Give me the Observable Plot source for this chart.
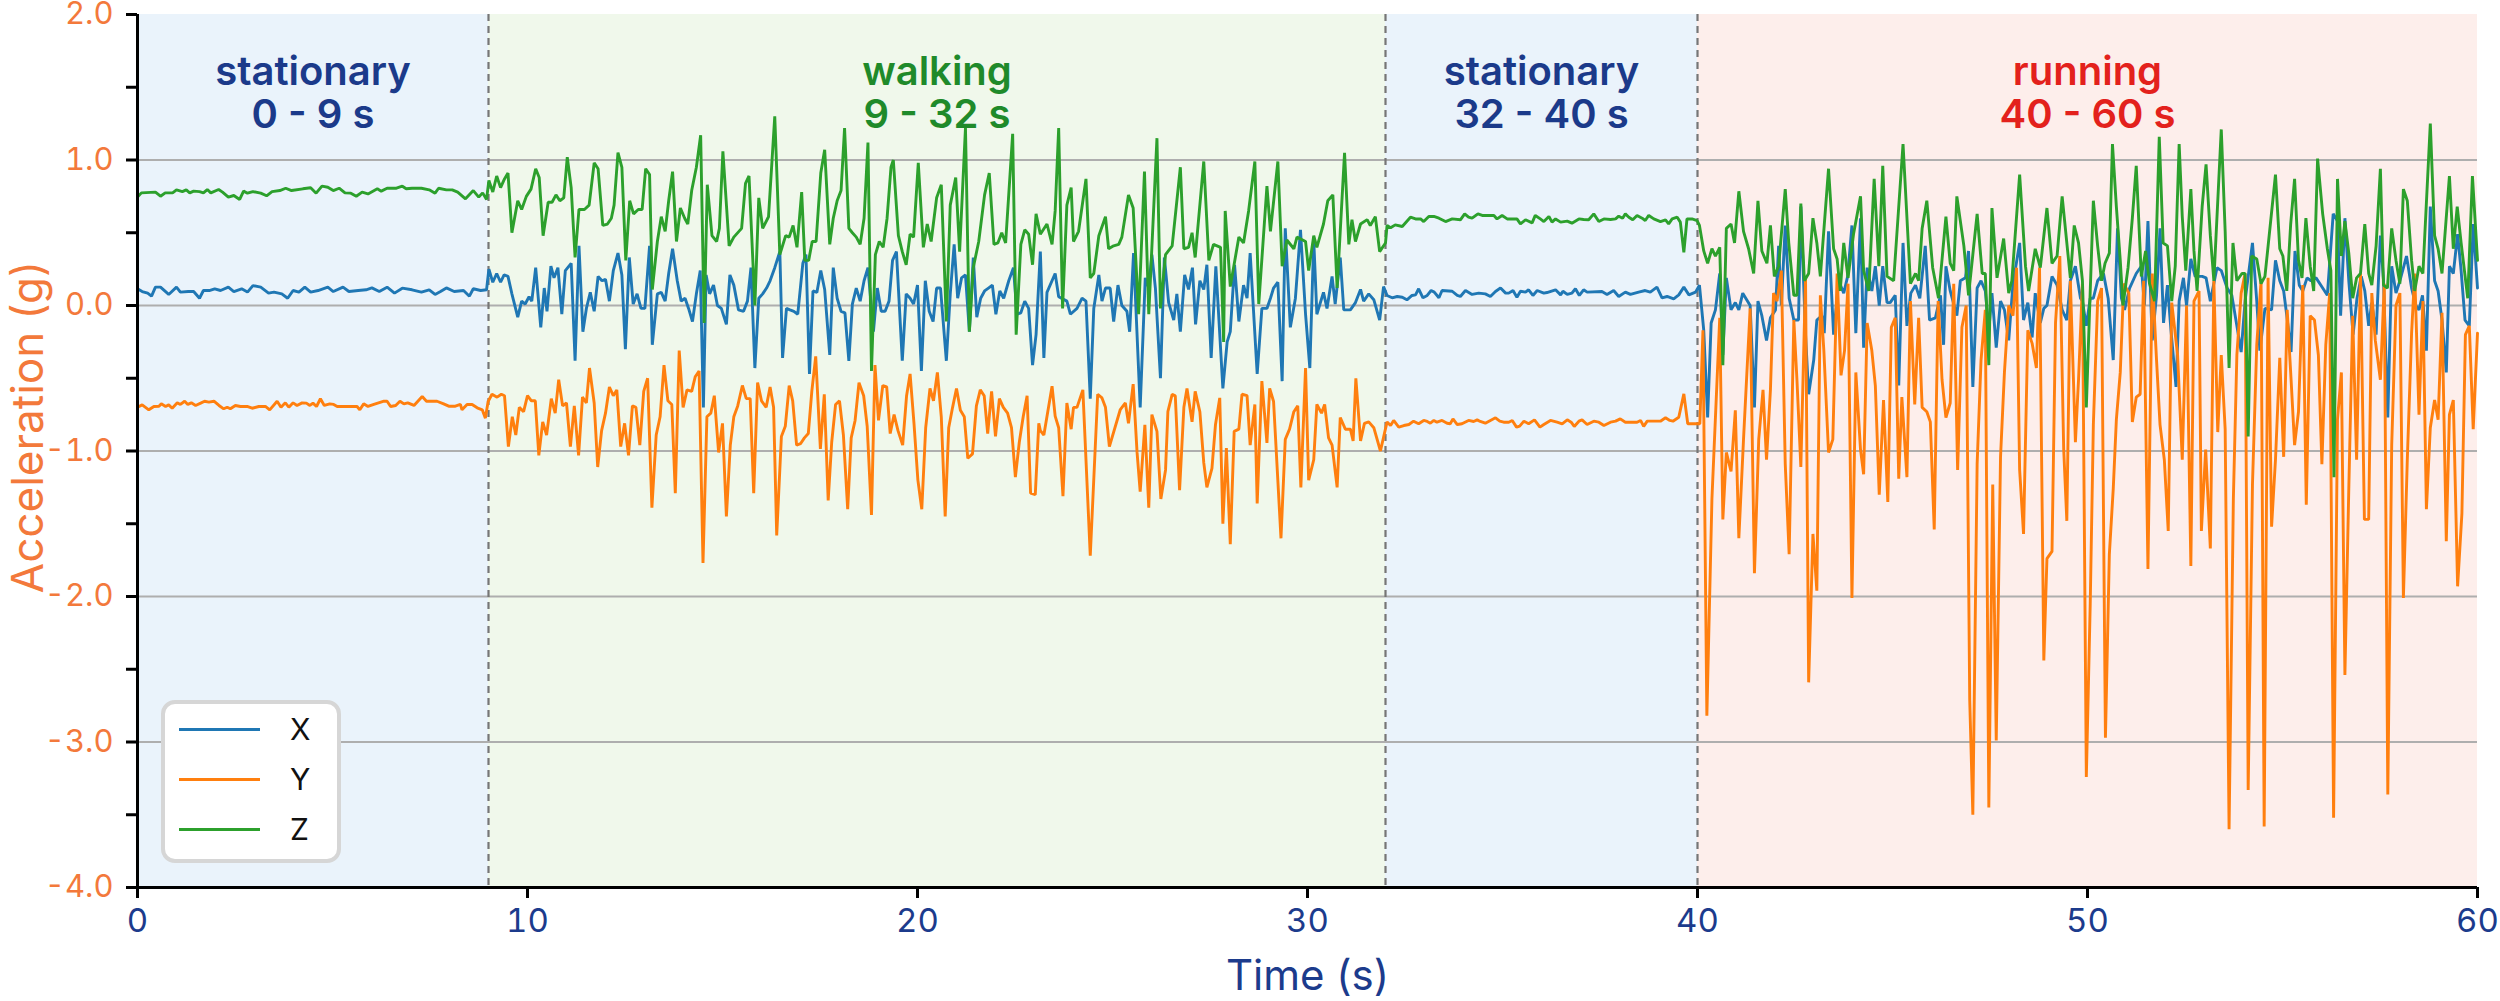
<!DOCTYPE html>
<html><head><meta charset="utf-8">
<script src="https://cdn.jsdelivr.net/npm/d3@7"></script>
<script src="https://cdn.jsdelivr.net/npm/@observablehq/plot@0.6"></script>
<style>
body{margin:0;background:#fff;}
#wrap{position:relative;width:2500px;height:1001px;overflow:hidden;}
#legend{position:absolute;left:161px;top:700px;width:172px;height:155px;border:4px solid #d6d6d6;border-radius:14px;background:#fff;font-family:Inter,'Noto Sans',sans-serif;}
.row{display:flex;align-items:center;height:50px;}
.sw{margin-left:14px;width:81px;height:3px;}
.lb{margin-left:30px;font-size:30px;color:#111;}
</style></head><body><div id="wrap"></div>
<script>
const seriesNames = ["X", "Y", "Z"];
const seriesColors = ["#1f77b4", "#ff7f0e", "#2ca02c"];
const phaseNames = ["stationary", "walking", "stationary", "running"];
const phaseStart = [0, 9, 32, 40];
const phaseEnd = [9, 32, 40, 60];
const phaseFill = ["#eaf3fb", "#f0f8eb", "#eaf3fb", "#fdeeeb"];
const phaseTextColor = ["#1b3a8a", "#1f8a2a", "#1b3a8a", "#e3211c"];
const xTicks = [0, 10, 20, 30, 40, 50, 60];
const yTicks = [-4, -3, -2, -1, 0, 1, 2];
const yMinorTicks = [-3.5, -2.5, -1.5, -0.5, 0.5, 1.5];
const gridValues = [-3, -2, -1, 0, 1];

// [time (s), acceleration (g)]
const seriesX = [
[0,0.115],[0.12,0.096],[0.26,0.085],[0.36,0.064],[0.46,0.126],[0.59,0.126],[0.80,0.076],[1.00,0.126],[1.10,0.092],[1.30,0.096],[1.44,0.096],[1.59,0.050],[1.69,0.103],[1.84,0.103],[1.98,0.115],[2.13,0.103],[2.33,0.126],[2.47,0.096],[2.67,0.115],[2.82,0.092],[2.96,0.137],[3.16,0.126],[3.36,0.085],[3.50,0.092],[3.70,0.080],[3.85,0.050],[3.99,0.103],[4.14,0.092],[4.29,0.126],[4.44,0.092],[4.63,0.103],[4.88,0.126],[5.02,0.096],[5.27,0.126],[5.42,0.096],[5.66,0.103],[5.86,0.108],[6.01,0.121],[6.20,0.096],[6.40,0.126],[6.59,0.085],[6.79,0.119],[7.04,0.108],[7.28,0.092],[7.48,0.108],[7.63,0.076],[7.77,0.096],[7.92,0.121],[8.12,0.096],[8.36,0.103],[8.51,0.064],[8.61,0.115],[8.80,0.103],[8.95,0.108],
[9.01,0.25],[9.11,0.16],[9.21,0.22],[9.31,0.16],[9.40,0.21],[9.50,0.20],[9.60,0.08],[9.75,-0.08],[9.85,0.03],[9.94,0.01],[10.04,0.06],[10.11,0.03],[10.21,0.26],[10.34,-0.15],[10.43,0.12],[10.50,-0.04],[10.60,0.27],[10.68,0.19],[10.78,0.26],[10.88,-0.06],[10.97,0.24],[11.12,0.29],[11.22,-0.38],[11.32,0.41],[11.42,-0.18],[11.51,-0.02],[11.61,0.09],[11.71,-0.04],[11.81,0.20],[11.91,0.17],[12.00,0.18],[12.10,0.03],[12.20,0.24],[12.32,0.36],[12.42,0.21],[12.51,-0.30],[12.61,0.33],[12.71,0.01],[12.81,0.08],[12.91,-0.02],[13.01,-0.02],[13.13,0.41],[13.20,-0.27],[13.33,0.08],[13.43,0.09],[13.53,0.03],[13.62,0.22],[13.72,0.39],[13.84,0.17],[13.94,0.03],[14.04,0.05],[14.13,-0.02],[14.23,-0.11],[14.33,0.08],[14.43,0.24],[14.51,-0.70],[14.58,0.21],[14.67,0.08],[14.77,0.14],[14.87,0.00],[14.97,-0.02],[15.10,-0.13],[15.19,0.21],[15.29,0.14],[15.41,-0.03],[15.54,-0.04],[15.64,0.03],[15.73,0.26],[15.83,-0.43],[15.93,0.05],[16.03,0.08],[16.13,0.12],[16.22,0.17],[16.34,0.26],[16.47,0.37],[16.54,-0.36],[16.64,-0.02],[16.73,-0.03],[16.83,-0.04],[16.93,-0.06],[17.06,0.29],[17.14,0.35],[17.23,-0.47],[17.32,0.10],[17.42,0.09],[17.52,0.24],[17.62,0.11],[17.75,-0.34],[17.84,0.26],[17.94,0.05],[18.04,-0.04],[18.14,-0.05],[18.24,-0.38],[18.33,0.01],[18.43,0.12],[18.53,0.03],[18.63,0.17],[18.73,0.26],[18.87,-0.18],[18.97,0.12],[19.07,-0.04],[19.17,-0.04],[19.27,0.03],[19.36,0.31],[19.46,0.37],[19.61,-0.38],[19.71,0.08],[19.81,0.05],[19.90,0.01],[20.00,0.14],[20.10,-0.45],[20.20,0.17],[20.30,-0.04],[20.40,-0.11],[20.49,0.12],[20.59,0.12],[20.74,-0.38],[20.84,0.08],[20.94,0.42],[21.03,0.05],[21.13,0.19],[21.23,0.21],[21.33,-0.18],[21.43,0.33],[21.52,-0.08],[21.62,0.05],[21.72,0.10],[21.82,0.12],[21.92,0.14],[22.01,-0.06],[22.11,0.10],[22.21,0.05],[22.34,0.17],[22.46,0.26],[22.55,-0.06],[22.65,-0.05],[22.75,0.03],[22.85,-0.02],[22.95,-0.41],[23.04,-0.20],
[23.15,0.37],[23.24,-0.36],[23.32,0.09],[23.53,0.22],[23.62,0.06],[23.83,0.03],[23.92,-0.06],[24.09,-0.02],[24.22,0.05],[24.32,0.03],[24.43,-0.64],[24.52,-0.02],[24.65,0.21],[24.73,0.03],[24.82,0.12],[24.94,0.12],[25.03,-0.11],[25.14,0.14],[25.24,0.00],[25.37,-0.04],[25.44,-0.18],[25.54,0.36],[25.71,-0.70],[25.84,0.19],[25.93,0.12],[26.01,0.35],[26.10,0.12],[26.23,-0.50],[26.33,0.33],[26.44,0.02],[26.57,-0.10],[26.65,0.08],[26.74,-0.18],[26.85,0.21],[26.95,0.11],[27.05,0.26],[27.13,-0.13],[27.24,0.17],[27.34,0.11],[27.42,0.28],[27.53,-0.36],[27.65,0.27],[27.83,-0.57],[27.94,-0.25],[28.02,-0.18],[28.13,0.28],[28.24,-0.11],[28.36,0.14],[28.45,0.05],[28.53,0.36],[28.71,-0.47],[28.83,-0.02],[28.96,-0.02],[29.05,0.05],[29.13,0.12],[29.24,0.16],[29.35,-0.52],[29.43,0.53],[29.56,-0.15],[29.69,0.05],[29.82,0.52],[29.95,-0.06],[30.06,-0.43],[30.16,0.45],[30.24,-0.06],[30.41,0.09],[30.50,-0.02],[30.63,0.20],[30.71,0.01],[30.84,0.33],[30.93,-0.03],[31.10,-0.03],[31.23,0.02],[31.36,0.11],[31.44,0.03],[31.57,0.08],[31.70,0.04],[31.85,-0.10],[31.95,0.13],
[32.04,0.069],[32.17,0.053],[32.30,0.062],[32.43,0.057],[32.55,0.039],[32.68,0.069],[32.77,0.073],[32.85,0.115],[32.96,0.053],[33.07,0.069],[33.17,0.103],[33.25,0.092],[33.37,0.053],[33.45,0.103],[33.71,0.098],[33.84,0.069],[33.92,0.062],[34.05,0.103],[34.22,0.076],[34.39,0.085],[34.56,0.080],[34.69,0.062],[34.82,0.096],[34.95,0.121],[35.08,0.085],[35.16,0.085],[35.27,0.103],[35.37,0.057],[35.46,0.098],[35.59,0.092],[35.67,0.108],[35.78,0.069],[35.89,0.103],[36.06,0.085],[36.14,0.089],[36.36,0.108],[36.49,0.073],[36.55,0.098],[36.66,0.076],[36.78,0.085],[36.87,0.115],[36.97,0.069],[37.08,0.108],[37.17,0.092],[37.55,0.096],[37.68,0.076],[37.85,0.103],[37.98,0.062],[38.15,0.092],[38.28,0.076],[38.49,0.092],[38.66,0.103],[38.79,0.092],[38.96,0.126],[39.09,0.053],[39.22,0.062],[39.39,0.046],[39.52,0.073],[39.65,0.126],[39.78,0.073],[39.95,0.092],
[40.05,0.14],[40.16,-0.17],[40.26,-0.77],[40.35,-0.12],[40.46,-0.03],[40.57,0.22],[40.65,-0.34],[40.74,0.19],[40.86,-0.03],[40.97,0.02],[41.06,-0.03],[41.16,0.085],[41.35,0.00],[41.46,-0.70],[41.55,0.03],[41.65,-0.07],[41.77,-0.24],[41.87,-0.085],[42.00,-0.03],[42.08,0.41],[42.15,0.00],[42.25,0.55],[42.35,0.05],[42.47,-0.10],[42.59,-0.10],[42.65,0.68],[42.77,-0.20],[42.85,-0.61],[42.98,-0.375],[43.06,-0.10],[43.19,-0.07],[43.25,-0.19],[43.36,0.51],[43.49,-0.20],[43.62,0.17],[43.75,0.085],[43.85,0.20],[43.96,0.55],[44.06,-0.19],[44.18,0.60],[44.26,-0.29],[44.35,0.26],[44.47,0.10],[44.56,0.27],[44.66,0.00],[44.75,0.27],[44.86,0.02],[44.94,0.02],[45.07,0.07],[45.16,-0.55],[45.27,0.43],[45.37,-0.14],[45.47,0.085],[45.59,0.14],[45.70,0.05],[45.84,0.41],[45.95,-0.10],[46.10,-0.085],[46.23,0.07],[46.31,-0.27],[46.37,0.27],[46.48,0.10],[46.65,-0.07],[46.74,0.17],[46.87,0.19],[46.95,0.375],[47.06,-0.56],[47.17,0.12],[47.27,0.17],[47.38,0.10],[47.47,-0.17],[47.55,0.085],[47.66,-0.29],[47.77,0.03],[47.87,-0.03],[47.98,-0.24],[48.09,0.15],[48.26,0.43],[48.36,-0.10],[48.47,0.02],[48.58,-0.22],[48.66,0.085],[48.79,-0.12],[48.88,-0.02],[48.96,0.00],[49.09,0.20],[49.22,0.14],[49.35,-0.03],[49.47,-0.10],[49.56,0.17],[49.69,0.27],[49.82,0.05],
[49.87,0.03],[49.97,-0.14],[50.07,0.05],[50.15,0.05],[50.26,0.17],[50.41,0.22],[50.53,0.05],[50.66,-0.375],[50.77,0.53],[50.87,0.05],[50.95,-0.03],[51.08,0.12],[51.25,0.22],[51.38,0.27],[51.46,0.00],[51.55,0.58],[51.66,-0.24],[51.77,0.07],[51.86,0.53],[51.95,-0.12],[52.05,0.14],[52.14,-0.17],[52.27,-0.56],[52.35,0.03],[52.46,0.19],[52.54,0.00],[52.65,0.32],[52.76,0.20],[52.94,0.20],[53.04,0.19],[53.15,0.03],[53.32,0.26],[53.43,0.24],[53.58,0.12],[53.70,0.07],[53.83,-0.14],[53.94,-0.32],[54.04,0.03],[54.23,0.43],[54.34,0.03],[54.42,-0.31],[54.55,-0.02],[54.72,-0.03],[54.82,0.31],[54.93,0.17],[55.03,0.10],[55.11,-0.07],[55.22,-0.32],[55.32,0.375],[55.43,0.14],[55.52,0.10],[55.63,0.19],[55.73,0.17],[55.86,0.19],[56.03,0.12],[56.15,0.07],[56.30,0.63],[56.41,0.58],[56.49,-0.07],[56.60,0.60],[56.70,0.17],[56.81,-0.20],[56.91,0.05],[57.02,0.20],[57.11,0.10],[57.21,-0.14],[57.29,0.02],[57.40,-0.20],[57.51,0.48],[57.59,0.17],[57.70,-0.77],[57.80,0.27],[57.91,0.085],[58.01,0.17],[58.18,0.34],[58.31,0.12],[58.42,0.00],[58.50,-0.03],[58.59,0.07],[58.69,-0.31],[58.79,0.68],[58.90,0.17],[58.99,0.10],[59.09,-0.10],[59.20,-0.46],[59.28,0.27],[59.38,0.22],[59.49,0.49],[59.58,0.24],[59.68,-0.10],[59.79,-0.14],[59.89,0.56],[60.00,0.12]
];

const seriesY = [
[0,-0.699],[0.12,-0.683],[0.29,-0.717],[0.42,-0.694],[0.55,-0.692],[0.61,-0.676],[0.72,-0.694],[0.80,-0.683],[0.89,-0.706],[1.02,-0.669],[1.10,-0.680],[1.21,-0.658],[1.29,-0.680],[1.38,-0.669],[1.49,-0.687],[1.62,-0.671],[1.72,-0.658],[1.83,-0.664],[1.96,-0.658],[2.09,-0.687],[2.21,-0.710],[2.30,-0.699],[2.38,-0.710],[2.51,-0.687],[2.64,-0.694],[2.81,-0.694],[2.94,-0.706],[3.11,-0.694],[3.28,-0.694],[3.39,-0.717],[3.58,-0.658],[3.68,-0.699],[3.79,-0.669],[3.88,-0.699],[3.99,-0.669],[4.09,-0.687],[4.22,-0.669],[4.33,-0.671],[4.42,-0.687],[4.50,-0.671],[4.59,-0.694],[4.69,-0.641],[4.79,-0.687],[4.93,-0.676],[5.03,-0.680],[5.12,-0.694],[5.38,-0.694],[5.63,-0.694],[5.70,-0.717],[5.80,-0.676],[5.91,-0.694],[6.06,-0.680],[6.32,-0.658],[6.40,-0.658],[6.49,-0.694],[6.62,-0.687],[6.73,-0.658],[6.83,-0.676],[6.93,-0.669],[7.09,-0.687],[7.30,-0.625],[7.41,-0.658],[7.68,-0.658],[7.85,-0.676],[7.98,-0.692],[8.15,-0.692],[8.28,-0.680],[8.32,-0.717],[8.45,-0.680],[8.58,-0.680],[8.71,-0.703],[8.84,-0.717],[8.92,-0.774],[8.99,-0.66],
[9.09,-0.61],[9.22,-0.63],[9.33,-0.61],[9.41,-0.62],[9.51,-0.97],[9.61,-0.765],[9.70,-0.89],[9.79,-0.70],[9.90,-0.73],[10.0,-0.62],[10.10,-0.655],[10.20,-0.655],[10.29,-1.03],[10.39,-0.80],[10.49,-0.89],[10.61,-0.64],[10.71,-0.74],[10.80,-0.51],[10.90,-0.69],[11.0,-0.67],[11.10,-0.97],[11.20,-0.69],[11.31,-1.03],[11.41,-0.63],[11.51,-0.67],[11.59,-0.43],[11.71,-0.67],[11.80,-1.11],[11.90,-0.86],[12.0,-0.74],[12.10,-0.56],[12.20,-0.62],[12.29,-0.58],[12.39,-0.97],[12.49,-0.81],[12.59,-1.03],[12.69,-0.69],[12.78,-0.70],[12.88,-0.96],[12.98,-0.59],[13.08,-0.50],[13.19,-1.39],[13.30,-0.89],[13.40,-0.765],[13.50,-0.41],[13.60,-0.655],[13.70,-0.68],[13.79,-1.29],[13.89,-0.31],[13.99,-0.70],[14.09,-0.58],[14.21,-0.59],[14.30,-0.49],[14.40,-0.45],[14.5,-1.77],[14.60,-0.765],[14.70,-0.74],[14.79,-0.62],[14.90,-1.01],[15.0,-0.81],[15.10,-1.45],[15.20,-0.96],[15.29,-0.765],[15.39,-0.69],[15.51,-0.55],[15.61,-0.64],[15.71,-0.64],[15.80,-1.29],[15.90,-0.53],[16.0,-0.655],[16.12,-0.70],[16.22,-0.56],[16.31,-0.70],[16.39,-1.58],[16.51,-0.90],[16.61,-0.83],[16.71,-0.55],[16.80,-0.655],[16.90,-0.96],[17.0,-0.95],[17.10,-0.91],[17.20,-0.88],[17.29,-0.59],[17.39,-0.35],[17.51,-0.985],[17.61,-0.61],[17.71,-1.34],[17.80,-0.94],[17.90,-0.68],[18.0,-0.655],[18.10,-0.89],[18.21,-1.40],[18.30,-0.91],[18.40,-0.79],[18.50,-0.53],[18.62,-0.62],[18.71,-0.83],[18.82,-1.44],[18.91,-0.41],[19.0,-0.79],[19.11,-0.55],[19.21,-0.56],[19.30,-0.88],[19.40,-0.75],[19.50,-0.86],[19.62,-0.96],[19.72,-0.62],[19.81,-0.47],[19.91,-0.81],[20.01,-1.20],[20.11,-1.40],[20.21,-0.84],[20.32,-0.57],[20.41,-0.655],[20.51,-0.46],[20.61,-0.765],[20.71,-1.45],[20.80,-0.84],[20.90,-0.70],[21.0,-0.57],[21.10,-0.72],[21.20,-0.765],[21.29,-1.05],[21.41,-1.02],[21.51,-0.69],[21.61,-0.58],[21.71,-0.62],[21.80,-0.88],[21.90,-0.59],[22.0,-0.90],[22.10,-0.64],[22.20,-0.70],[22.31,-0.74],[22.41,-0.84],[22.51,-1.18],[22.61,-0.94],[22.71,-0.765],[22.81,-0.62],[22.90,-1.29],[23.02,-1.30],[23.11,-0.81],
[23.15,-0.86],[23.24,-0.89],[23.45,-0.555],[23.53,-0.76],[23.62,-0.84],[23.73,-1.31],[23.83,-0.67],[23.94,-0.85],[24.0,-0.70],[24.09,-0.70],[24.24,-0.58],[24.43,-1.72],[24.62,-0.61],[24.73,-0.635],[24.82,-0.70],[24.92,-0.97],[25.2,-0.715],[25.33,-0.67],[25.41,-0.81],[25.53,-0.54],[25.63,-1.01],[25.71,-1.28],[25.83,-0.82],[25.93,-1.39],[26.01,-0.75],[26.14,-0.865],[26.24,-1.33],[26.36,-1.13],[26.42,-0.73],[26.53,-0.61],[26.61,-0.62],[26.72,-1.27],[26.83,-0.70],[26.91,-0.57],[27.04,-0.80],[27.12,-0.59],[27.24,-0.73],[27.34,-1.08],[27.42,-1.25],[27.55,-1.12],[27.64,-0.82],[27.75,-0.635],[27.83,-1.50],[27.92,-0.98],[28.02,-1.64],[28.12,-0.865],[28.24,-0.85],[28.32,-0.61],[28.45,-0.62],[28.53,-0.96],[28.65,-0.68],[28.71,-1.36],[28.83,-0.52],[28.96,-0.945],[29.03,-0.57],[29.13,-0.66],[29.32,-1.60],[29.43,-0.92],[29.54,-0.85],[29.65,-0.73],[29.75,-0.69],[29.83,-1.25],[29.95,-0.43],[30.03,-1.20],[30.16,-1.06],[30.24,-0.68],[30.36,-0.74],[30.44,-0.68],[30.54,-0.91],[30.63,-0.96],[30.76,-1.25],[30.84,-0.77],[30.97,-0.85],[31.1,-0.85],[31.17,-0.93],[31.24,-0.50],[31.36,-0.93],[31.46,-0.81],[31.57,-0.80],[31.70,-0.84],[31.87,-1.00],[32.04,-0.80],
[32.13,-0.825],[32.21,-0.790],[32.34,-0.836],[32.47,-0.825],[32.60,-0.818],[32.72,-0.795],[32.85,-0.813],[32.98,-0.790],[33.07,-0.797],[33.15,-0.809],[33.24,-0.790],[33.32,-0.802],[33.45,-0.790],[33.58,-0.809],[33.66,-0.813],[33.73,-0.779],[33.84,-0.818],[33.96,-0.813],[34.13,-0.790],[34.26,-0.797],[34.35,-0.786],[34.43,-0.797],[34.56,-0.809],[34.69,-0.790],[34.82,-0.772],[34.93,-0.795],[35.03,-0.802],[35.16,-0.802],[35.25,-0.790],[35.36,-0.836],[35.44,-0.829],[35.55,-0.795],[35.67,-0.813],[35.82,-0.786],[35.96,-0.836],[36.06,-0.818],[36.23,-0.790],[36.40,-0.802],[36.53,-0.813],[36.66,-0.786],[36.76,-0.802],[36.84,-0.831],[36.96,-0.795],[37.04,-0.786],[37.17,-0.818],[37.34,-0.795],[37.47,-0.802],[37.60,-0.825],[37.77,-0.802],[37.90,-0.795],[38.02,-0.779],[38.15,-0.802],[38.28,-0.802],[38.45,-0.802],[38.54,-0.790],[38.62,-0.831],[38.71,-0.795],[38.88,-0.795],[39.05,-0.795],[39.18,-0.772],[39.29,-0.790],[39.37,-0.795],[39.52,-0.768],[39.65,-0.607],[39.75,-0.813],[40.06,-0.813],
[40.14,-0.17],[40.24,-2.82],[40.37,-1.33],[40.57,-0.085],[40.65,-1.47],[40.74,-1.01],[40.86,-1.14],[40.97,-0.72],[41.06,-1.60],[41.18,-0.92],[41.35,-0.02],[41.46,-1.84],[41.57,-0.92],[41.68,-0.58],[41.77,-1.06],[41.87,-0.58],[41.95,0.085],[42.04,0.03],[42.15,0.24],[42.25,-1.09],[42.35,-1.71],[42.47,-0.10],[42.55,-0.51],[42.65,-1.11],[42.77,0.19],[42.85,-2.59],[42.96,-1.57],[43.06,-1.96],[43.15,0.07],[43.24,-0.31],[43.36,-1.01],[43.47,-0.92],[43.58,0.22],[43.68,-0.48],[43.77,-0.31],[43.86,0.15],[43.96,-2.01],[44.06,-0.46],[44.18,-0.99],[44.26,-1.16],[44.35,-0.12],[44.47,-0.31],[44.56,-0.55],[44.66,-1.30],[44.77,-0.65],[44.88,-1.35],[44.97,-0.15],[45.07,-0.085],[45.16,-1.19],[45.24,-0.63],[45.37,-1.18],[45.46,0.03],[45.57,-0.68],[45.67,-0.085],[45.76,-0.70],[45.88,-0.73],[45.97,-0.80],[46.07,-1.54],[46.17,0.03],[46.27,-0.51],[46.37,-0.77],[46.48,-0.67],[46.57,0.15],[46.67,-1.13],[46.78,-0.15],[46.89,0.00],[46.98,-2.71],[47.06,-3.50],[47.17,-1.09],[47.27,-0.375],[47.38,-0.03],[47.47,-3.45],[47.57,-1.23],[47.66,-2.99],[47.77,-1.04],[47.87,-0.46],[47.98,0.00],[48.09,-0.07],[48.18,0.26],[48.26,-1.13],[48.36,-1.57],[48.47,-0.17],[48.58,-0.26],[48.69,-0.43],[48.77,0.26],[48.88,-2.44],[48.96,-1.74],[49.09,-1.69],[49.18,-0.12],[49.29,0.34],[49.39,-0.99],[49.47,-1.48],[49.56,0.17],[49.69,-0.94],
[49.77,-0.51],[49.87,0.15],[49.97,-3.24],[50.07,-2.05],[50.15,-0.82],[50.26,0.03],[50.36,0.12],[50.46,-2.97],[50.56,-1.71],[50.66,-1.26],[50.74,-0.785],[50.84,-0.46],[50.93,0.15],[51.06,0.085],[51.15,-0.80],[51.25,-0.63],[51.35,-0.61],[51.44,0.17],[51.55,-1.81],[51.66,0.22],[51.77,-0.375],[51.86,-0.82],[51.97,-1.06],[52.07,-1.55],[52.16,0.02],[52.31,-0.34],[52.43,-1.06],[52.54,0.00],[52.65,-1.79],[52.73,0.03],[52.86,0.10],[52.92,-1.55],[53.03,-0.99],[53.15,-1.67],[53.24,0.17],[53.34,-0.87],[53.43,-0.34],[53.53,-0.85],[53.63,-3.60],[53.74,-1.33],[53.83,-0.34],[53.94,0.085],[54.04,0.22],[54.12,-3.33],[54.23,-1.23],[54.34,-0.27],[54.45,0.17],[54.53,-3.58],[54.63,0.19],[54.72,-1.52],[54.82,-1.06],[54.93,-0.36],[55.03,-1.04],[55.12,-0.03],[55.22,-0.51],[55.31,-0.96],[55.41,-0.73],[55.52,0.14],[55.61,-1.37],[55.71,-0.07],[55.82,-0.10],[55.92,-0.34],[56.01,-1.09],[56.11,-0.27],[56.21,0.085],[56.31,-3.52],[56.41,-0.785],[56.51,-0.46],[56.60,-2.54],[56.70,-1.26],[56.80,-0.07],[56.90,-1.06],[57.00,0.22],[57.10,-1.47],[57.21,-1.47],[57.29,0.085],[57.38,-0.24],[57.51,-0.51],[57.61,0.15],[57.70,-3.36],[57.80,-0.96],[57.91,0.00],[58.01,0.085],[58.10,-2.01],[58.20,-1.06],[58.31,-0.19],[58.39,0.22],[58.50,-0.75],[58.60,0.03],[58.69,-1.40],[58.79,-0.84],[58.90,-0.65],[58.99,-0.785],[59.09,-0.05],[59.20,-1.62],[59.28,-0.75],[59.38,-0.65],[59.49,-1.93],[59.60,-1.43],[59.69,-0.20],[59.79,-0.14],[59.89,-0.85],[60.00,-0.19]
];

const seriesZ = [
[0,0.745],[0.10,0.774],[0.46,0.779],[0.59,0.751],[0.71,0.774],[0.90,0.774],[1.00,0.795],[1.15,0.783],[1.25,0.795],[1.34,0.774],[1.44,0.786],[1.59,0.783],[1.69,0.774],[1.79,0.797],[1.88,0.774],[2.08,0.797],[2.18,0.779],[2.33,0.745],[2.47,0.756],[2.62,0.729],[2.72,0.786],[2.82,0.772],[2.96,0.783],[3.16,0.772],[3.31,0.754],[3.45,0.783],[3.65,0.790],[3.80,0.806],[3.95,0.790],[4.24,0.802],[4.44,0.809],[4.58,0.772],[4.73,0.820],[4.88,0.813],[5.02,0.790],[5.17,0.806],[5.32,0.774],[5.47,0.772],[5.61,0.751],[5.76,0.779],[5.91,0.767],[6.15,0.802],[6.25,0.786],[6.40,0.806],[6.64,0.806],[6.79,0.820],[6.89,0.802],[7.04,0.806],[7.28,0.806],[7.48,0.795],[7.63,0.772],[7.72,0.806],[7.92,0.795],[8.07,0.795],[8.21,0.779],[8.41,0.733],[8.61,0.790],[8.75,0.745],[8.85,0.774],[8.95,0.729],
[9.01,0.86],[9.11,0.78],[9.21,0.89],[9.31,0.81],[9.41,0.87],[9.50,0.91],[9.60,0.50],[9.75,0.72],[9.85,0.66],[9.97,0.75],[10.09,0.80],[10.21,0.94],[10.30,0.88],[10.40,0.48],[10.53,0.71],[10.63,0.71],[10.73,0.76],[10.83,0.72],[10.93,0.74],[11.02,1.02],[11.12,0.81],[11.22,0.33],[11.32,0.66],[11.46,0.66],[11.58,0.69],[11.71,0.98],[11.81,0.94],[11.93,0.55],[12.05,0.56],[12.15,0.60],[12.22,0.69],[12.32,1.05],[12.42,0.95],[12.52,0.31],[12.62,0.72],[12.72,0.63],[12.84,0.66],[12.94,0.66],[13.03,0.94],[13.13,0.90],[13.20,0.11],[13.33,0.44],[13.43,0.61],[13.53,0.51],[13.62,0.72],[13.72,0.92],[13.82,0.44],[13.92,0.67],[14.03,0.60],[14.11,0.56],[14.21,0.79],[14.33,0.95],[14.44,1.17],[14.53,-0.12],[14.61,0.83],[14.73,0.48],[14.85,0.44],[14.92,0.53],[15.01,1.06],[15.17,0.41],[15.29,0.47],[15.49,0.53],[15.59,0.84],[15.68,0.89],[15.83,0.00],[15.93,0.74],[16.03,0.53],[16.18,0.61],[16.34,1.30],[16.47,0.35],[16.62,0.48],[16.71,0.47],[16.81,0.55],[16.91,0.40],[17.03,0.78],[17.11,0.31],[17.21,0.31],[17.30,0.44],[17.40,0.44],[17.52,0.91],[17.62,1.07],[17.75,0.42],[17.84,0.60],[17.94,0.72],[18.04,0.79],[18.13,1.22],[18.24,0.53],[18.33,0.50],[18.43,0.47],[18.53,0.42],[18.63,0.60],[18.73,1.12],[18.82,-0.45],[18.92,0.35],[19.02,0.44],[19.12,0.40],[19.22,0.60],[19.32,0.95],[19.38,1.00],[19.51,0.48],[19.61,0.37],[19.71,0.28],[19.81,0.49],[19.90,0.47],[20.02,0.98],[20.15,0.40],[20.25,0.56],[20.35,0.44],[20.49,0.74],[20.61,0.83],[20.74,-0.11],[20.84,0.69],[20.98,0.88],[21.08,0.37],[21.23,1.22],[21.33,-0.18],[21.43,0.26],[21.57,0.44],[21.72,0.76],[21.84,0.91],[21.96,0.42],[22.06,0.43],[22.16,0.50],[22.26,0.43],[22.44,1.18],[22.53,-0.20],[22.65,0.42],[22.75,0.52],[22.85,0.49],[22.95,0.28],[23.04,0.63],
[23.15,0.49],[23.32,0.56],[23.45,0.42],[23.53,0.65],[23.62,1.22],[23.72,-0.02],[23.83,0.69],[23.94,0.81],[24.0,0.44],[24.13,0.51],[24.32,0.87],[24.43,0.19],[24.52,0.22],[24.65,0.48],[24.82,0.61],[24.9,0.39],[25.03,0.41],[25.16,0.42],[25.24,0.47],[25.41,0.76],[25.53,0.67],[25.67,-0.06],[25.82,0.92],[25.93,-0.06],[26.14,1.15],[26.23,-0.02],[26.36,0.35],[26.53,0.41],[26.74,0.95],[26.83,0.39],[26.95,0.40],[27.04,0.50],[27.12,0.33],[27.34,0.99],[27.47,0.31],[27.59,0.42],[27.77,0.40],[27.85,-0.25],[27.89,0.65],[28.02,0.13],[28.24,0.47],[28.36,0.43],[28.49,0.65],[28.65,0.99],[28.75,0.01],[28.96,0.82],[29.05,0.51],[29.24,0.99],[29.35,0.27],[29.47,0.45],[29.65,0.39],[29.73,0.47],[29.95,0.44],[30.03,0.24],[30.16,0.48],[30.24,0.40],[30.41,0.56],[30.52,0.72],[30.65,0.76],[30.76,0.12],[30.95,1.05],[31.06,0.42],[31.14,0.59],[31.23,0.44],[31.36,0.56],[31.53,0.59],[31.61,0.55],[31.74,0.61],[31.85,0.37],[32.0,0.43],
[32.04,0.550],[32.13,0.534],[32.25,0.554],[32.43,0.543],[32.64,0.607],[32.77,0.595],[32.90,0.595],[32.98,0.577],[33.11,0.612],[33.24,0.612],[33.37,0.600],[33.54,0.577],[33.71,0.595],[33.92,0.589],[34.03,0.630],[34.13,0.607],[34.22,0.600],[34.37,0.630],[34.48,0.619],[34.78,0.619],[34.86,0.595],[34.99,0.619],[35.12,0.595],[35.29,0.595],[35.37,0.595],[35.46,0.561],[35.59,0.589],[35.76,0.568],[35.84,0.619],[35.97,0.595],[36.06,0.577],[36.19,0.612],[36.27,0.573],[36.36,0.595],[36.49,0.573],[36.66,0.580],[36.78,0.566],[36.96,0.595],[37.08,0.591],[37.21,0.589],[37.34,0.630],[37.47,0.577],[37.60,0.595],[37.77,0.591],[37.90,0.595],[37.98,0.614],[38.08,0.600],[38.15,0.630],[38.24,0.607],[38.34,0.589],[38.45,0.619],[38.58,0.600],[38.66,0.584],[38.75,0.619],[38.88,0.595],[39.05,0.577],[39.18,0.589],[39.26,0.561],[39.35,0.595],[39.48,0.607],[39.56,0.573],[39.65,0.366],[39.73,0.595],[39.86,0.595],[39.99,0.584],
[40.05,0.55],[40.16,0.375],[40.26,0.29],[40.37,0.39],[40.46,0.34],[40.57,0.40],[40.65,-0.41],[40.74,0.53],[40.86,0.56],[40.95,0.43],[41.06,0.785],[41.18,0.51],[41.31,0.39],[41.44,0.22],[41.55,0.72],[41.65,0.375],[41.78,0.29],[41.87,0.55],[41.97,0.20],[42.08,0.27],[42.25,0.80],[42.34,0.43],[42.47,0.07],[42.55,0.07],[42.65,0.70],[42.74,0.17],[42.85,0.22],[42.96,0.60],[43.06,0.43],[43.15,0.20],[43.36,0.94],[43.49,0.39],[43.58,0.32],[43.66,0.10],[43.75,0.43],[43.86,0.19],[44.0,0.49],[44.18,0.75],[44.26,0.24],[44.39,0.10],[44.53,0.87],[44.65,0.27],[44.75,0.96],[44.86,0.20],[45.03,0.17],[45.27,1.11],[45.46,0.15],[45.59,0.22],[45.67,0.17],[45.76,0.53],[45.88,0.72],[46.03,0.26],[46.18,0.05],[46.37,0.61],[46.48,0.29],[46.57,0.24],[46.65,0.75],[46.83,0.41],[46.95,0.07],[47.17,0.63],[47.30,0.22],[47.38,0.22],[47.47,-0.41],[47.55,0.67],[47.68,0.19],[47.85,0.46],[47.98,0.085],[48.06,0.17],[48.26,0.90],[48.41,0.27],[48.49,0.10],[48.66,0.39],[48.79,0.26],[48.96,0.67],[49.09,0.29],[49.22,0.34],[49.35,0.75],[49.56,0.19],
[49.66,0.55],[49.77,0.43],[49.87,0.17],[49.97,-0.70],[50.07,0.10],[50.15,0.72],[50.26,0.41],[50.36,0.17],[50.45,0.29],[50.56,0.36],[50.64,1.11],[50.74,0.68],[50.84,0.31],[50.91,0.00],[51.04,0.26],[51.15,0.60],[51.25,0.96],[51.38,0.20],[51.49,0.375],[51.59,0.15],[51.72,0.03],[51.84,1.16],[51.94,0.43],[52.05,0.41],[52.16,0.03],[52.25,0.27],[52.35,1.11],[52.43,0.61],[52.52,0.24],[52.65,0.80],[52.73,0.375],[52.81,0.10],[52.94,0.68],[53.04,0.97],[53.15,0.48],[53.24,0.17],[53.43,1.21],[53.53,0.51],[53.63,-0.43],[53.73,0.43],[53.83,0.17],[53.96,0.22],[54.04,0.22],[54.12,-0.90],[54.21,0.34],[54.34,0.32],[54.45,0.15],[54.55,0.20],[54.82,0.90],[54.93,0.39],[55.01,0.34],[55.11,0.10],[55.21,0.56],[55.31,0.87],[55.41,0.31],[55.50,0.19],[55.60,0.60],[55.71,0.27],[55.80,0.10],[55.90,1.01],[56.03,0.63],[56.15,0.39],[56.24,0.24],[56.32,-1.18],[56.41,0.87],[56.51,0.34],[56.60,0.58],[56.70,0.36],[56.80,0.05],[56.90,0.19],[57.00,0.22],[57.11,0.56],[57.21,0.22],[57.29,0.14],[57.40,0.41],[57.51,0.94],[57.59,0.14],[57.69,0.12],[57.80,0.53],[57.91,0.31],[58.01,0.15],[58.10,0.80],[58.20,0.72],[58.31,0.31],[58.39,0.10],[58.50,0.27],[58.60,0.22],[58.79,1.25],[58.90,0.48],[58.99,0.39],[59.09,0.22],[59.28,0.89],[59.38,0.39],[59.48,0.68],[59.58,0.43],[59.75,0.05],[59.87,0.89],[60.00,0.31]
];

const FONT = "Inter, 'Noto Sans', sans-serif";
const axisOrange = "#f3793b";
const axisBlue = "#1c3b8c";

const rows = [];
[seriesX, seriesY, seriesZ].forEach((s, k) => s.forEach(([t, a]) => rows.push({t, a, axis: seriesNames[k]})));

const phases = phaseNames.map((name, i) => ({
  name, start: phaseStart[i], end: phaseEnd[i],
  mid: (phaseStart[i] + phaseEnd[i]) / 2,
  label: `${name}\n${phaseStart[i]} - ${phaseEnd[i]} s`,
  fill: phaseFill[i], color: phaseTextColor[i]
}));

const marks = [];
phases.forEach(p => marks.push(Plot.rect([p], {x1: "start", x2: "end", fill: p.fill})));
marks.push(Plot.ruleY(gridValues, {stroke: "#aeaeae", strokeWidth: 1.8}));
marks.push(Plot.ruleX(phaseStart.slice(1), {stroke: "#767676", strokeWidth: 2.2, strokeDasharray: "7,5"}));
marks.push(Plot.line(rows, {x: "t", y: "a", z: "axis", stroke: "axis", strokeWidth: 2.9, strokeLinejoin: "miter"}));
phases.forEach(p => {
  marks.push(Plot.text([p], {x: "mid", text: "label", frameAnchor: "top", dy: 40, lineAnchor: "top", lineHeight: 1.075, fontSize: 40, fontWeight: 600, fill: p.color}));
});
marks.push(Plot.axisY(yTicks, {tickSize: 11, tickPadding: 13, strokeWidth: 3, stroke: "black", color: axisOrange, fill: axisOrange, fontSize: 31, tickFormat: d => d.toFixed(1), label: null}));
marks.push(Plot.axisY(yMinorTicks, {tickSize: 11, strokeWidth: 3, stroke: "black", tickFormat: () => "", label: null}));
marks.push(Plot.axisX(xTicks, {tickSize: 11, tickPadding: 10, strokeWidth: 3, stroke: "black", color: axisBlue, fill: axisBlue, fontSize: 33, label: null}));
marks.push(Plot.ruleX([0], {stroke: "black", strokeWidth: 3}));
marks.push(Plot.ruleY([-4], {stroke: "black", strokeWidth: 3}));
marks.push(Plot.text(["Acceleration (g)"], {frameAnchor: "left", textAnchor: "middle", dx: -109, dy: -24, rotate: -90, fontSize: 44, fill: axisOrange}));
marks.push(Plot.text(["Time (s)"], {frameAnchor: "bottom", dy: 102, fontSize: 42, fill: axisBlue}));

const chart = Plot.plot({
  width: 2500, height: 1001,
  marginLeft: 137, marginRight: 23, marginTop: 14, marginBottom: 114,
  style: {fontFamily: FONT, background: "transparent", overflow: "visible"},
  x: {domain: [0, 60]},
  y: {domain: [-4, 2]},
  color: {domain: seriesNames, range: seriesColors},
  marks
});
const wrap = document.getElementById("wrap");
wrap.appendChild(chart);

const legend = document.createElement("div");
legend.id = "legend";
seriesNames.forEach((n, i) => {
  const row = document.createElement("div");
  row.className = "row";
  const sw = document.createElement("span");
  sw.className = "sw"; sw.style.background = seriesColors[i];
  const lb = document.createElement("span");
  lb.className = "lb"; lb.textContent = n;
  row.appendChild(sw); row.appendChild(lb);
  legend.appendChild(row);
});
wrap.appendChild(legend);
</script>
</body></html>
